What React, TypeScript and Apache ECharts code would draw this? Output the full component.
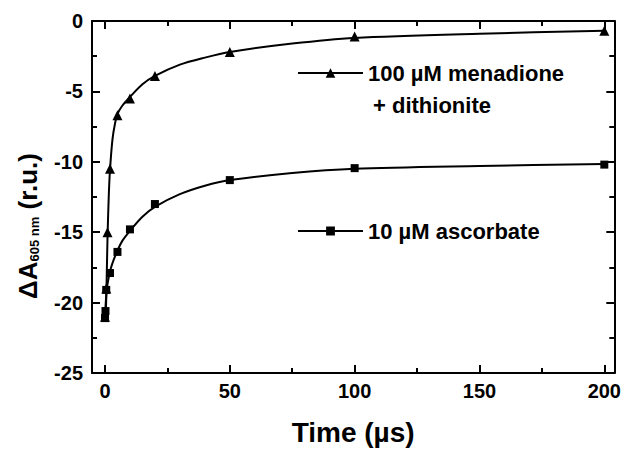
import React, { useEffect, useRef } from "react";
import * as echarts from "echarts";

// measured points
const timeMena = [0, 0.5, 1, 2, 5, 10, 20, 50, 100, 200];
const absMena = [-21, -19, -15, -10.5, -6.7, -5.5, -3.9, -2.2, -1.1, -0.7];
const timeAsc = [0, 0.2, 0.5, 2, 5, 10, 20, 50, 100, 200];
const absAsc = [-21.1, -20.6, -19.1, -17.9, -16.4, -14.8, -13.0, -11.3, -10.45, -10.2];
// fitted curves
const fitTimeMena = [0.3, 0.6, 1, 1.5, 2, 3, 4, 5, 7, 10, 15, 20, 30, 40, 50, 75, 100, 150, 200];
const fitAbsMena = [-21, -19, -15.5, -12.5, -10.6, -8.4, -7.3, -6.6, -6.0, -5.4, -4.5, -3.9, -3.1, -2.6, -2.2, -1.6, -1.2, -0.9, -0.7];
const fitTimeAsc = [0, 0.5, 1, 2, 3, 5, 7, 10, 15, 20, 30, 40, 50, 75, 100, 150, 200];
const fitAbsAsc = [-21, -19.5, -18.7, -17.8, -17.2, -16.3, -15.6, -14.9, -13.9, -13.2, -12.3, -11.7, -11.3, -10.8, -10.5, -10.3, -10.15];
const xMajorTicks = [0, 50, 100, 150, 200];
const xMinorTicks = [25, 75, 125, 175];
const nameMena = "100 µM menadione";
const nameMena2 = "+ dithionite";
const nameAsc = "10 µM ascorbate";

const FONT = "'Liberation Sans', Arial, sans-serif";

export default function App() {
  const ref = useRef<HTMLDivElement>(null);
  useEffect(() => {
    if (!ref.current) return;
    const chart = echarts.init(ref.current, null, { renderer: "svg" });
    const xMin = -5.2;
    const xMax = 204;
    const axisLine = { show: true, onZero: false, lineStyle: { color: "#000", width: 2 } };
    const mkX = (pos: string, ticks: number[], len: number, labels: boolean, line: boolean) => ({
      type: "value",
      position: pos,
      min: xMin,
      max: xMax,
      axisLine: line ? axisLine : { show: false, onZero: false },
      axisTick: { show: true, inside: true, length: len, customValues: ticks, lineStyle: { color: "#000", width: 2 } },
      axisLabel: labels
        ? { show: true, customValues: ticks, margin: 8, color: "#000", fontSize: 20, fontWeight: "bold", fontFamily: FONT }
        : { show: false },
      splitLine: { show: false },
    });
    const mkY = (pos: string, labels: boolean) => ({
      type: "value",
      position: pos,
      min: -25,
      max: 0,
      interval: 5,
      axisLine,
      axisTick: { show: true, inside: true, length: 8, lineStyle: { color: "#000", width: 2 } },
      minorTick: { show: true, splitNumber: 2, length: 5, lineStyle: { color: "#000", width: 2 } },
      axisLabel: labels
        ? { show: true, margin: 9, color: "#000", fontSize: 20, fontWeight: "bold", fontFamily: FONT }
        : { show: false },
      splitLine: { show: false },
      minorSplitLine: { show: false },
    });
    const legendText = { color: "#000", fontSize: 22, fontWeight: "bold", fontFamily: FONT };
    const curve = (name: string, xs: number[], ys: number[], symbol: string) => ({
      name,
      type: "line",
      data: xs.map((t, i) => [t, ys[i]]),
      smooth: 0.3,
      symbol,
      showSymbol: false,
      lineStyle: { color: "#000", width: 2 },
      itemStyle: { color: "#000" },
      z: 2,
    });
    const points = (name: string, xs: number[], ys: number[], symbol: string, size: number) => ({
      name,
      type: "scatter",
      data: xs.map((t, i) => [t, ys[i]]),
      symbol,
      symbolSize: size,
      itemStyle: { color: "#000", opacity: 1 },
      z: 3,
    });
    chart.setOption({
      animation: false,
      backgroundColor: "#fff",
      grid: { left: 92, top: 21, right: 7, bottom: 72, containLabel: false },
      xAxis: [
        {
          ...mkX("bottom", xMajorTicks, 8, true, true),
          name: "Time (µs)",
          nameLocation: "middle",
          nameGap: 45,
          nameTextStyle: { color: "#000", fontSize: 28, fontWeight: "bold", fontFamily: FONT },
        },
        mkX("bottom", xMinorTicks, 5, false, false),
        mkX("top", xMajorTicks, 8, false, true),
        mkX("top", xMinorTicks, 5, false, false),
      ],
      yAxis: [mkY("left", true), mkY("right", false)],
      legend: [
        {
          data: [nameMena],
          left: 297,
          top: 62,
          padding: 0,
          itemWidth: 65,
          itemHeight: 12,
          textStyle: legendText,
          selectedMode: false,
        },
        {
          data: [nameAsc],
          left: 297,
          top: 220,
          padding: 0,
          itemWidth: 65,
          itemHeight: 11,
          textStyle: legendText,
          selectedMode: false,
        },
      ],
      graphic: [
        {
          type: "text",
          left: 373,
          top: 94,
          style: { text: nameMena2, fill: "#000", font: `bold 22px ${FONT}` },
        },
        {
          type: "text",
          x: 26,
          y: 226,
          rotation: Math.PI / 2,
          style: {
            text: "{a|ΔA}{s|605 nm}{a| (r.u.)}",
            align: "center",
            verticalAlign: "middle",
            fill: "#000",
            rich: {
              a: { fontSize: 26, fontWeight: "bold", fontFamily: FONT, fill: "#000", lineHeight: 30, verticalAlign: "bottom" },
              s: { fontSize: 13, fontWeight: "bold", fontFamily: FONT, fill: "#000", lineHeight: 13, verticalAlign: "bottom" },
            },
          },
        },
      ],
      series: [
        curve(nameMena, fitTimeMena, fitAbsMena, "triangle"),
        curve(nameAsc, fitTimeAsc, fitAbsAsc, "rect"),
        points(nameMena, timeMena, absMena, "triangle", 10),
        points(nameAsc, timeAsc, absAsc, "rect", 8),
      ],
    });
    return () => chart.dispose();
  }, []);
  return <div ref={ref} style={{ width: 624, height: 451, position: "absolute", left: 0, top: 0 }} />;
}
